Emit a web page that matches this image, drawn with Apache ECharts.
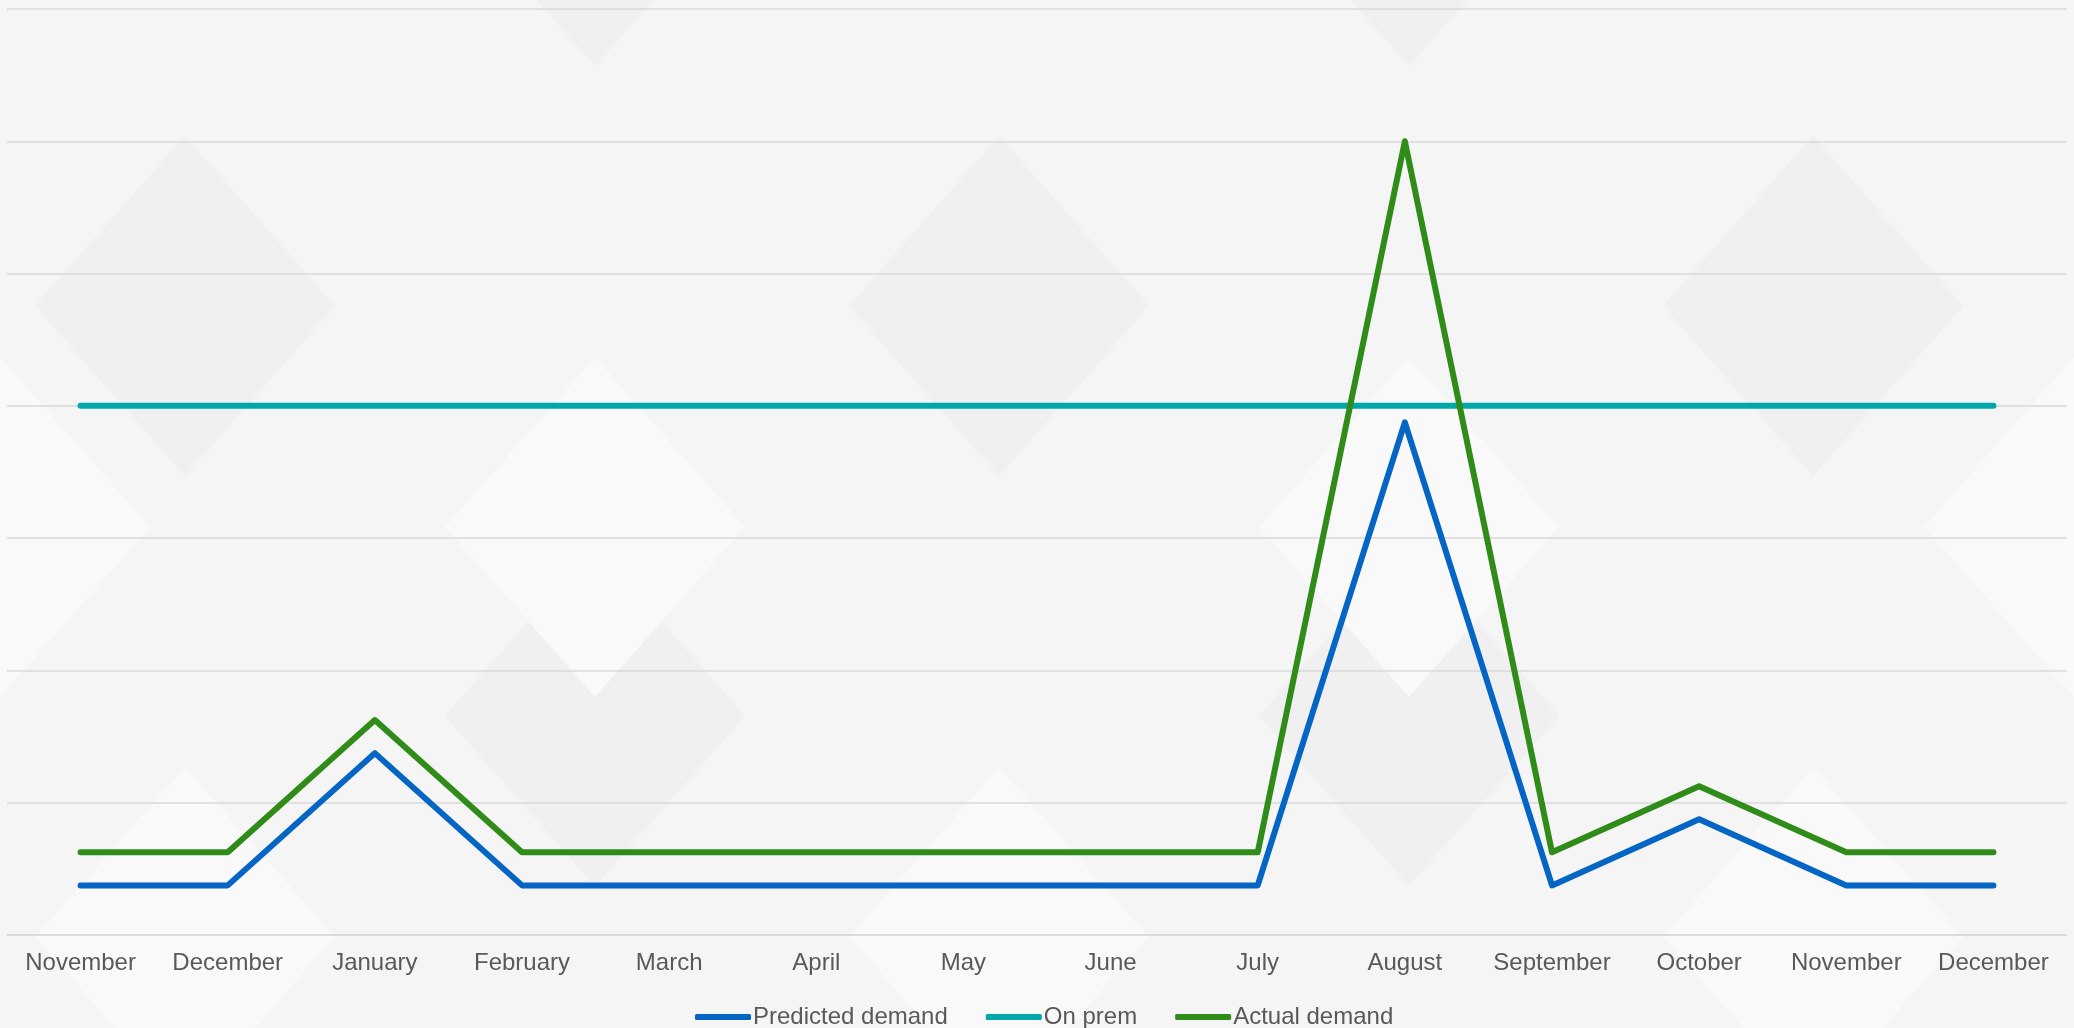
<!DOCTYPE html>
<html>
<head>
<meta charset="utf-8">
<title>Demand</title>
<script src="https://cdn.jsdelivr.net/npm/echarts@6/dist/echarts.min.js"></script>
<style>
    html, body {margin: 0; padding: 0; background: #f5f5f5;}
    #chart {width: 2074px; height: 1028px;}
</style>
</head>
<body>
<div id="chart"></div>
<script>
// months along the x axis
let months = ['November', 'December', 'January', 'February', 'March', 'April', 'May',
    'June', 'July', 'August', 'September', 'October', 'November', 'December'];

// values (gridline step = 20)
let predicted = [7.5, 7.5, 27.5, 7.5, 7.5, 7.5, 7.5, 7.5, 7.5, 77.5, 7.5, 17.5, 7.5, 7.5];
let onPrem = [80, 80, 80, 80, 80, 80, 80, 80, 80, 80, 80, 80, 80, 80];
let actual = [12.5, 12.5, 32.5, 12.5, 12.5, 12.5, 12.5, 12.5, 12.5, 120, 12.5, 22.5, 12.5, 12.5];

let FONT = "'Liberation Sans', Arial, sans-serif";

let chart = echarts.init(document.getElementById('chart'));

// faint diamond backdrop, only decoration
function diamond(cx, cy, fill) {
    return {
        type: 'polygon',
        silent: true,
        z: -10,
        shape: {points: [[cx, cy - 170], [cx + 150, cy], [cx, cy + 170], [cx - 150, cy]]},
        style: {fill: fill}
    };
}

let backdrop = [];
// dark shapes hang above their lower tips, light ones sit below their upper tips
[[595, 66], [1409, 66], [185, 476], [999, 476], [1813, 476], [595, 886], [1409, 886]].forEach(function (p) {
    backdrop.push(diamond(p[0], p[1] - 170, '#f0f0f0'));
});
[[595, 357], [1409, 357], [185, 767], [999, 767], [1813, 767], [0, 357], [2074, 357]].forEach(function (p) {
    backdrop.push(diamond(p[0], p[1] + 170, '#f9f9f9'));
});

function lineSeries(name, data, color) {
    return {
        name: name,
        type: 'line',
        data: data,
        showSymbol: false,
        symbol: 'none',
        color: color,
        lineStyle: {width: 6, color: color, cap: 'round', join: 'round'},
        emphasis: {disabled: true}
    };
}

let option = {
    backgroundColor: '#f5f5f5',
    animation: false,
    textStyle: {fontFamily: FONT},
    graphic: backdrop,
    grid: {
        left: 7,
        right: 7,
        top: 9,
        bottom: 93,
        containLabel: false
    },
    legend: {
        left: 690,
        top: 1000,
        icon: 'roundRect',
        itemWidth: 56,
        itemHeight: 6,
        itemGap: 38,
        textStyle: {color: '#595959', fontSize: 24, fontFamily: FONT, padding: [0, 0, 0, -3]},
        data: ['Predicted demand', 'On prem', 'Actual demand']
    },
    xAxis: {
        type: 'category',
        boundaryGap: true,
        data: months,
        axisLine: {lineStyle: {color: '#d9d9d9', width: 1.5}},
        axisTick: {show: false},
        axisLabel: {color: '#595959', fontSize: 24, fontFamily: FONT, margin: 16, interval: 0}
    },
    yAxis: {
        type: 'value',
        min: 0,
        max: 140,
        interval: 20,
        axisLabel: {show: false},
        axisLine: {show: false},
        axisTick: {show: false},
        splitLine: {lineStyle: {color: '#d9d9d9', width: 1.5}}
    },
    series: [
        lineSeries('Predicted demand', predicted, '#0565c4'),
        lineSeries('On prem', onPrem, '#00a8ab'),
        lineSeries('Actual demand', actual, '#2f8c18')
    ]
};

chart.setOption(option);
</script>
</body>
</html>
